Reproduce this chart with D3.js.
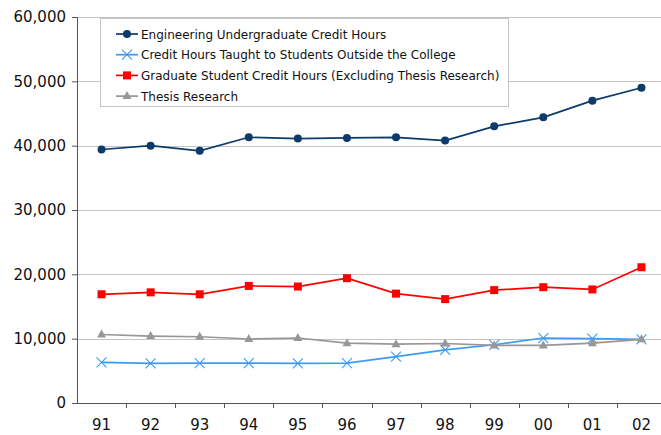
<!DOCTYPE html>
<html>
<head>
<meta charset="utf-8">
<script src="https://cdn.jsdelivr.net/npm/d3@7"></script>
<style>
	body { margin: 0; background: #fff; }
	text { font-family: "DejaVu Sans", Verdana, sans-serif; fill: #111; }
</style>
</head>
<body>
<div id="canvas"></div>
<script>
// chart values
var years = ["91", "92", "93", "94", "95", "96", "97", "98", "99", "00", "01", "02"];
var undergrad = [39400, 40000, 39200, 41300, 41100, 41200, 41300, 40800, 43000, 44400, 47000, 49000];
var outside = [6300, 6150, 6200, 6200, 6150, 6200, 7200, 8250, 9050, 10100, 10000, 9900];
var graduate = [16900, 17200, 16900, 18200, 18100, 19400, 17000, 16150, 17550, 18000, 17650, 21100];
var thesis = [10650, 10400, 10300, 9950, 10100, 9300, 9150, 9250, 8950, 8950, 9300, 9900];
var yTicks = [0, 10000, 20000, 30000, 40000, 50000, 60000];

drawChart();

function drawChart(){
	var series = [
		{name: "Engineering Undergraduate Credit Hours", values: undergrad, color: "#0b3a6b", marker: "circle"},
		{name: "Credit Hours Taught to Students Outside the College", values: outside, color: "#3d9bf5", marker: "cross"},
		{name: "Graduate Student Credit Hours (Excluding Thesis Research)", values: graduate, color: "#ff0000", marker: "square"},
		{name: "Thesis Research", values: thesis, color: "#979797", marker: "triangle"}
	];

	var w = 661, h = 435;
	var plotLeft = 77, plotRight = 666, plotTop = 17, plotBottom = 403;

	var svg = d3.select("#canvas")
		.append("svg")
		.attr("width", w)
		.attr("height", h);

	var x = d3.scaleBand()
		.domain(years)
		.range([plotLeft, plotRight]);

	var y = d3.scaleLinear()
		.domain([0, 60000])
		.range([plotBottom, plotTop]);

	// gridlines
	svg.selectAll(".grid")
		.data(yTicks.filter(function(d){ return d > 0; }))
		.enter()
		.append("line")
		.attr("x1", plotLeft)
		.attr("x2", w)
		.attr("y1", function(d){ return Math.round(y(d)) + 0.5; })
		.attr("y2", function(d){ return Math.round(y(d)) + 0.5; })
		.attr("stroke", "#c4c4c4")
		.attr("stroke-width", 1);

	// y axis
	var yAxis = svg.append("g")
		.attr("transform", "translate(" + plotLeft + ",0)")
		.call(d3.axisLeft(y).tickValues(yTicks).tickSize(5).tickPadding(6).tickFormat(d3.format(",")));

	yAxis.selectAll("text").attr("font-size", 15).attr("fill", "#111").style("font-family", "DejaVu Sans, Verdana, sans-serif");
	yAxis.selectAll("line, path").attr("stroke", "#555");

	// x axis with ticks between categories
	var xAxis = svg.append("g")
		.attr("transform", "translate(0," + plotBottom + ")");

	xAxis.append("line")
		.attr("x1", plotLeft)
		.attr("x2", w)
		.attr("y1", 0.5)
		.attr("y2", 0.5)
		.attr("stroke", "#555");

	xAxis.selectAll(".xtick")
		.data(years.slice(1))
		.enter()
		.append("line")
		.attr("x1", function(d){ return Math.round(x(d)) + 0.5; })
		.attr("x2", function(d){ return Math.round(x(d)) + 0.5; })
		.attr("y1", 0)
		.attr("y2", 5)
		.attr("stroke", "#555");

	xAxis.selectAll(".xlabel")
		.data(years)
		.enter()
		.append("text")
		.attr("x", function(d){ return x(d) + x.bandwidth() / 2; })
		.attr("y", 27)
		.attr("text-anchor", "middle")
		.attr("font-size", 15)
		.text(function(d){ return d; });

	var cx = function(d, i){ return x(years[i]) + x.bandwidth() / 2; };

	function drawMarker(sel, type, color){
		if(type === "circle"){
			sel.append("circle").attr("r", 4).attr("fill", color);
		} else if(type === "square"){
			sel.append("rect").attr("x", -4).attr("y", -4).attr("width", 8).attr("height", 8).attr("fill", color);
		} else if(type === "triangle"){
			sel.append("path").attr("d", "M0,-5L4.5,3L-4.5,3Z").attr("fill", color);
		} else {
			sel.append("path").attr("d", "M-5,-5L5,5M-5,5L5,-5").attr("stroke", color).attr("stroke-width", 1.1).attr("fill", "none");
		}
	}

	var line = d3.line()
		.x(cx)
		.y(function(d){ return y(d); });

	series.forEach(function(s){
		var g = svg.append("g").attr("class", "series");
		g.append("path")
			.datum(s.values)
			.attr("d", line)
			.attr("fill", "none")
			.attr("stroke", s.color)
			.attr("stroke-width", 1.7);
		g.selectAll(".pt")
			.data(s.values)
			.enter()
			.append("g")
			.attr("transform", function(d, i){ return "translate(" + cx(d, i) + "," + y(d) + ")"; })
			.each(function(){ drawMarker(d3.select(this), s.marker, s.color); });
	});

	// legend
	var legend = svg.append("g").attr("transform", "translate(100,18)");
	legend.append("rect")
		.attr("x", 0.5)
		.attr("y", 0.5)
		.attr("width", 408)
		.attr("height", 88)
		.attr("fill", "#fff")
		.attr("stroke", "#c4c4c4");

	legend.selectAll(".item")
		.data(series)
		.enter()
		.append("g")
		.attr("transform", function(d, i){ return "translate(0," + (16 + i * 20.7) + ")"; })
		.each(function(d){
			var g = d3.select(this);
			g.append("line")
				.attr("x1", 16).attr("x2", 38)
				.attr("y1", 0).attr("y2", 0)
				.attr("stroke", d.color)
				.attr("stroke-width", 1.7);
			var m = g.append("g").attr("transform", "translate(27,0)");
			drawMarker(m, d.marker, d.color);
			g.append("text")
				.attr("x", 41)
				.attr("y", 4.5)
				.attr("font-size", 12)
				.text(d.name);
		});
}
</script>
</body>
</html>
